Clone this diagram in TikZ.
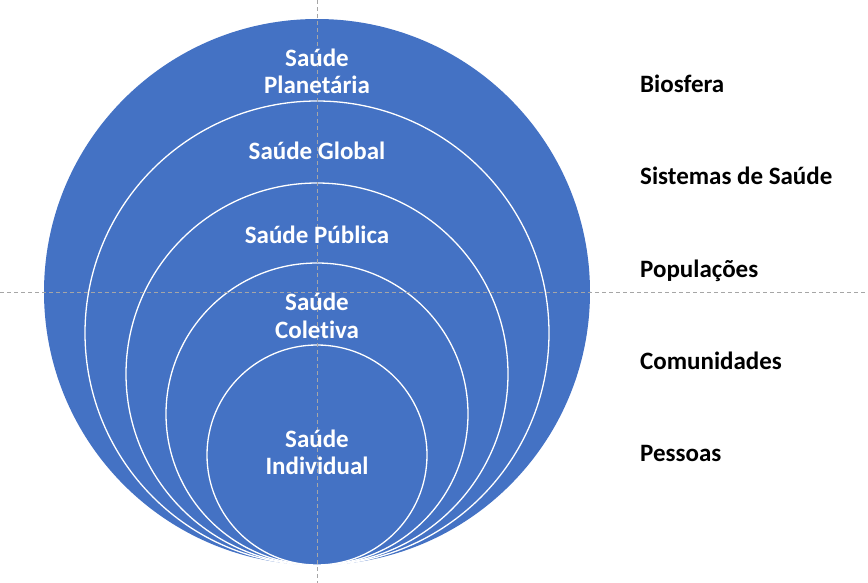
\documentclass[tikz,border=0pt]{standalone}
\usepackage{fontspec}
\setmainfont{Carlito}[Ligatures={NoCommon}]
\definecolor{officeblue}{HTML}{4472C4}
\definecolor{guidegray}{HTML}{A6A6A6}
\begin{document}
\begin{tikzpicture}[x=1pt,y=-1pt,
  ring/.style={draw=white,line width=1.3pt},
  guide/.style={draw=guidegray,line width=0.9pt,dash pattern=on 4pt off 3pt},
  inlabel/.style={text=white,font=\fontsize{25}{27.5}\selectfont\bfseries,align=center,anchor=base,inner sep=0pt},
  outlabel/.style={text=black,font=\fontsize{25}{27.5}\selectfont\bfseries,anchor=base west,inner sep=0pt}]
\useasboundingbox (0,0) rectangle (868,583);
\fill[officeblue] (317,292) circle[radius=273pt];
\draw[ring,fill=officeblue] (317,333) circle[radius=232pt];
\draw[ring,fill=officeblue] (317,374) circle[radius=191pt];
\draw[ring,fill=officeblue] (317,414) circle[radius=151pt];
\draw[ring,fill=officeblue] (317,455) circle[radius=110pt];
\coordinate (vt) at (317,0);
\coordinate (vb) at (317,583);
\coordinate (hl) at (0,292);
\coordinate (hr) at (868,292);
\draw[guide] (vt) -- (vb);
\draw[guide] (hl) -- (hr);
\node[inlabel] (planet1) at (317,67) {Saúde};
\node[inlabel] (planet2) at (317,94) {Planetária};
\node[inlabel] (global) at (317,160) {Saúde Global};
\node[inlabel] (publica) at (317,243) {Saúde Pública};
\node[inlabel] (colet1) at (317,310) {Saúde};
\node[inlabel] (colet2) at (317,338) {Coletiva};
\node[inlabel] (indiv1) at (317,447) {Saúde};
\node[inlabel] (indiv2) at (317,474) {Individual};
\node[outlabel] (bio) at (640,93) {Biosfera};
\node[outlabel] (sis) at (640,185) {Sistemas de Saúde};
\node[outlabel] (pop) at (640,277) {Populações};
\node[outlabel] (com) at (640,369) {Comunidades};
\node[outlabel] (pes) at (640,461) {Pessoas};
\end{tikzpicture}
\end{document}
